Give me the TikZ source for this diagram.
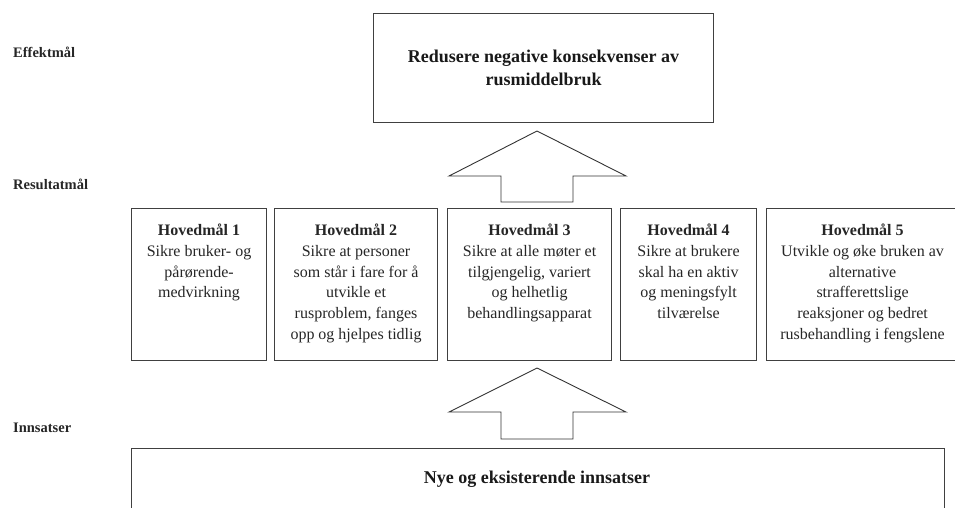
\documentclass[tikz,border=0pt]{standalone}
\usepackage{fontspec}
\setmainfont{Liberation Serif}
\tikzset{
  frame/.style={draw=black!75, line width=1.1pt, inner sep=0pt, anchor=north west},
  blockarrow/.style={draw=black!80, line width=0.9pt, line join=miter},
  lvl/.style={font=\fontsize{14.5}{17}\selectfont\bfseries, text=black!85, anchor=base west, inner sep=0pt},
  goaltext/.style={align=center, inner sep=0pt, font=\fontsize{16}{20.7}\selectfont, text=black!85, anchor=north},
  bigtext/.style={align=center, inner sep=0pt, font=\fontsize{18}{23}\selectfont\bfseries, text=black!90}
}
\begin{document}
\begin{tikzpicture}[x=1pt,y=-1pt]
\useasboundingbox (0,0) rectangle (955,507);
% level labels
\node[lvl] (effekt) at (13,57) {Effektmål};
\node[lvl] (resultat) at (13,189) {Resultatmål};
\node[lvl] (innsats) at (13,432) {Innsatser};
% top box
\node[frame, minimum width=340pt, minimum height=109pt] (top) at (373,13) {};
\node[bigtext] (toptext) at (top.center) {Redusere negative konsekvenser av\\rusmiddelbruk};
% upper block arrow
\draw[blockarrow] (537,131) -- (626,176) -- (573,176) -- (573,202) -- (501,202) -- (501,176) -- (449,176) -- cycle;
% goal boxes
\node[frame, minimum width=135pt, minimum height=152pt] (h1) at (131,208) {};
\node[frame, minimum width=163pt, minimum height=152pt] (h2) at (274,208) {};
\node[frame, minimum width=164pt, minimum height=152pt] (h3) at (447,208) {};
\node[frame, minimum width=136pt, minimum height=152pt] (h4) at (620,208) {};
\node[frame, minimum width=192pt, minimum height=152pt] (h5) at (766,208) {};
\node[goaltext] (h1t) at ([yshift=-16pt]h1.north) {\textbf{Hovedmål 1}\\Sikre bruker- og\\pårørende-\\medvirkning};
\node[goaltext] (h2t) at ([yshift=-16pt]h2.north) {\textbf{Hovedmål 2}\\Sikre at personer\\som står i fare for å\\utvikle et\\rusproblem, fanges\\opp og hjelpes tidlig};
\node[goaltext] (h3t) at ([yshift=-16pt]h3.north) {\textbf{Hovedmål 3}\\Sikre at alle møter et\\tilgjengelig, variert\\og helhetlig\\behandlingsapparat};
\node[goaltext] (h4t) at ([yshift=-16pt]h4.north) {\textbf{Hovedmål 4}\\Sikre at brukere\\skal ha en aktiv\\og meningsfylt\\tilværelse};
\node[goaltext] (h5t) at ([yshift=-16pt]h5.north) {\textbf{Hovedmål 5}\\Utvikle og øke bruken av\\alternative\\strafferettslige\\reaksjoner og bedret\\rusbehandling i fengslene};
% lower block arrow
\draw[blockarrow] (537,368) -- (626,412) -- (573,412) -- (573,439) -- (501,439) -- (501,412) -- (449,412) -- cycle;
% bottom box
\node[frame, minimum width=813pt, minimum height=80pt] (inn) at (131,448) {};
\node[bigtext, anchor=base] (inntext) at (537,483) {Nye og eksisterende innsatser};
\end{tikzpicture}
\end{document}
